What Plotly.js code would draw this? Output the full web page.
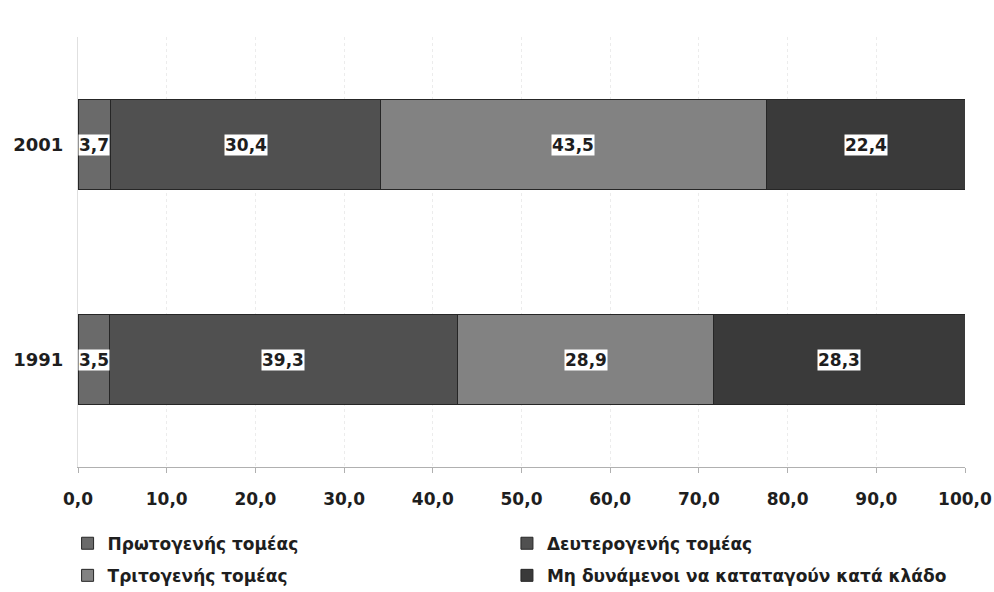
<!DOCTYPE html>
<html>
<head>
<meta charset="utf-8">
<script src="https://cdn.plot.ly/plotly-3.0.1.min.js"></script>
<style>html,body{margin:0;padding:0;background:#fff;}</style>
</head>
<body>
<div id="chart" style="width:994px;height:592px;"></div>
<script>
const years = ['1991', '2001'];
const seriesNames = ['Πρωτογενής τομέας', 'Δευτερογενής τομέας', 'Τριτογενής τομέας', 'Μη δυνάμενοι να καταταγούν κατά κλάδο'];
const primary = [3.5, 3.7];
const secondary = [39.3, 30.4];
const tertiary = [28.9, 43.5];
const unclassified = [28.3, 22.4];
const tickValues = [0, 10, 20, 30, 40, 50, 60, 70, 80, 90, 100];

const seriesValues = [primary, secondary, tertiary, unclassified];
const colors = ['#6a6a6a', '#505050', '#828282', '#3a3a3a'];
const legendIds = ['legend', 'legend2', 'legend', 'legend2'];

const FONT = 'DejaVu Sans';
const traces = seriesValues.map((vals, i) => ({
  type: 'bar',
  orientation: 'h',
  name: seriesNames[i],
  y: years,
  x: vals,
  width: 0.42,
  legend: legendIds[i],
  legendgroup: 'g' + i,
  marker: {color: colors[i], line: {color: '#262626', width: 1}},
  hoverinfo: 'none'
}));

const fmt = v => v.toFixed(1).replace('.', ',');
const annotations = [];
years.forEach((yr, j) => {
  let cum = 0;
  seriesValues.forEach((vals, i) => {
    const v = vals[j];
    const mid = cum + v / 2;
    annotations.push({
      x: i === 0 ? cum : mid, y: j, xref: 'x', yref: 'y',
      text: fmt(v), showarrow: false,
      xanchor: i === 0 ? 'left' : 'center',
      bgcolor: '#ffffff', borderpad: 0,
      font: {family: FONT, size: 17, color: '#1e1e1e', weight: 'bold'}
    });
    cum += v;
  });
});

const legendBase = {
  orientation: 'v', traceorder: 'grouped',
  xref: 'container', yref: 'container',
  xanchor: 'left', yanchor: 'top',
  itemwidth: 30, tracegroupgap: 7,
  bgcolor: 'rgba(0,0,0,0)',
  font: {family: FONT, size: 17, color: '#1e1e1e', weight: 'bold'}
};

const layout = {
  barmode: 'stack',
  width: 994, height: 592,
  margin: {l: 78, r: 29, t: 37, b: 125, autoexpand: false},
  paper_bgcolor: '#ffffff', plot_bgcolor: '#ffffff',
  separators: ',.',
  showlegend: true,
  xaxis: {
    range: [0, 100], tickvals: tickValues, tickformat: '.1f',
    showgrid: true, gridcolor: '#ececec', griddash: 'dot', gridwidth: 1,
    showline: true, linecolor: '#b0b0b0', linewidth: 1,
    ticks: 'outside', ticklen: 5, tickcolor: '#b0b0b0',
    ticklabelstandoff: 12, tickangle: 0,
    zeroline: false, fixedrange: true, automargin: false,
    tickfont: {family: FONT, size: 17, color: '#1e1e1e', weight: 'bold'}
  },
  yaxis: {
    type: 'category', categoryorder: 'array', categoryarray: years,
    range: [-0.5, 1.5],
    showline: true, linecolor: '#e0e0e0', linewidth: 1,
    ticks: '', showgrid: false, zeroline: false, fixedrange: true,
    ticklabelstandoff: 10, automargin: false,
    tickfont: {family: FONT, size: 18, color: '#1e1e1e', weight: 'bold'}
  },
  legend: Object.assign({}, legendBase, {x: 0.068, y: 0.112}),
  legend2: Object.assign({}, legendBase, {x: 0.51, y: 0.112}),
  annotations: annotations
};

Plotly.newPlot('chart', traces, layout, {displayModeBar: false, staticPlot: true});
</script>
</body>
</html>
